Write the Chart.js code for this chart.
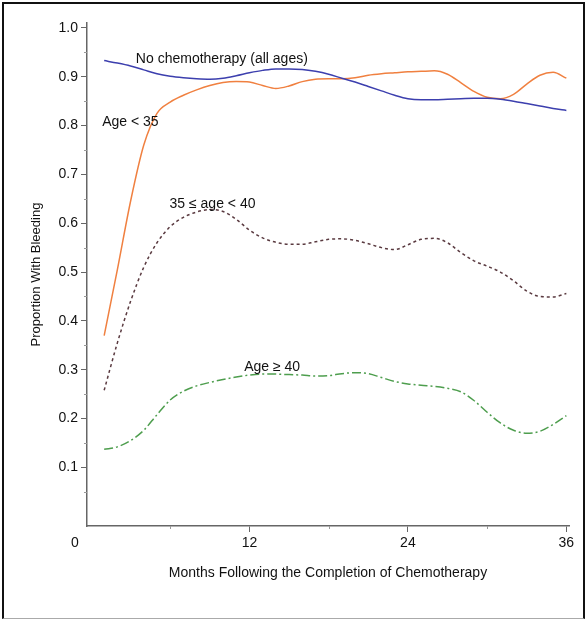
<!DOCTYPE html>
<html>
<head>
<meta charset="utf-8">
<script src="https://cdn.jsdelivr.net/npm/chart.js@4.4.1/dist/chart.umd.min.js"></script>
<style>
  html, body { margin: 0; padding: 0; background: #fff; }
  #wrap { position: relative; width: 587px; height: 620px; }
  #frame { position: absolute; left: 2px; top: 2px; width: 579px; height: 614px;
           border: 2px solid #111; border-bottom: 1px solid #aaa; pointer-events: none; }
</style>
</head>
<body>
<div id="wrap">
  <canvas id="chart" width="587" height="620"></canvas>
  <div id="frame"></div>
</div>
<script>
// months after chemotherapy (x values)
const months = [1, 2, 3, 4, 5, 6, 7, 8, 9, 10, 11, 12, 13, 14, 15, 16, 17, 18,
                19, 20, 21, 22, 23, 24, 25, 26, 27, 28, 29, 30, 31, 32, 33, 34, 35, 36];

// proportion with bleeding, one value per month
const noChemo = [0.933, 0.928, 0.922, 0.914, 0.906, 0.901, 0.898, 0.896, 0.895, 0.897, 0.902, 0.908,
                 0.913, 0.916, 0.916, 0.915, 0.911, 0.905, 0.897, 0.889, 0.880, 0.871, 0.862, 0.855,
                 0.853, 0.853, 0.854, 0.855, 0.856, 0.856, 0.854, 0.850, 0.845, 0.840, 0.835, 0.831];
const ageUnder35 = [0.370, 0.505, 0.645, 0.760, 0.825, 0.848, 0.862, 0.873, 0.882, 0.888, 0.890, 0.889,
                    0.882, 0.876, 0.881, 0.890, 0.895, 0.896, 0.896, 0.898, 0.903, 0.906, 0.908, 0.910,
                    0.911, 0.912, 0.905, 0.888, 0.870, 0.858, 0.855, 0.864, 0.885, 0.903, 0.909, 0.897];
const age35to40 = [0.258, 0.355, 0.440, 0.510, 0.560, 0.593, 0.612, 0.623, 0.628, 0.624, 0.608, 0.586,
                   0.570, 0.561, 0.557, 0.557, 0.562, 0.567, 0.568, 0.565, 0.558, 0.550, 0.546, 0.556,
                   0.567, 0.569, 0.560, 0.540, 0.523, 0.512, 0.500, 0.482, 0.461, 0.450, 0.449, 0.456];
const age40plus = [0.137, 0.142, 0.155, 0.176, 0.208, 0.238, 0.256, 0.267, 0.274, 0.280, 0.285, 0.289,
                   0.291, 0.291, 0.290, 0.289, 0.287, 0.288, 0.292, 0.294, 0.292, 0.284, 0.276, 0.271,
                   0.268, 0.266, 0.262, 0.255, 0.237, 0.213, 0.191, 0.176, 0.170, 0.174, 0.188, 0.206];

// axis ticks
const xTicks = [12, 24, 36];
const xMinorTicks = [6, 18, 30];
const yTicks = [0.1, 0.2, 0.3, 0.4, 0.5, 0.6, 0.7, 0.8, 0.9, 1.0];
const yMinorTicks = [0.05, 0.15, 0.25, 0.35, 0.45, 0.55, 0.65, 0.75, 0.85, 0.95];

// curve labels, anchored in data units
const curveLabels = [
  { text: 'No chemotherapy (all ages)', x: 3.4, y: 0.935 },
  { text: 'Age < 35', x: 0.85, y: 0.808 },
  { text: '35 \u2264 age < 40', x: 5.95, y: 0.640 },
  { text: 'Age \u2265 40', x: 11.6, y: 0.306 }
];

const FONT = '"Liberation Sans", Arial, Helvetica, sans-serif';
const AXIS = '#666';
const TEXT = '#111';

const toPoints = vals => months.map((m, i) => ({ x: m, y: vals[i] }));

// minor ticks, the origin "0" and the curve labels
const decorations = {
  id: 'decorations',
  afterDraw(chart) {
    const { ctx, scales: { x, y } } = chart;
    ctx.save();
    ctx.strokeStyle = '#999';
    ctx.lineWidth = 1;
    yMinorTicks.forEach(v => {
      const py = Math.round(y.getPixelForValue(v)) + 0.5;
      ctx.beginPath(); ctx.moveTo(x.left - 3, py); ctx.lineTo(x.left, py); ctx.stroke();
    });
    xMinorTicks.forEach(v => {
      const px = Math.round(x.getPixelForValue(v)) + 0.5;
      ctx.beginPath(); ctx.moveTo(px, y.bottom); ctx.lineTo(px, y.bottom + 3); ctx.stroke();
    });
    ctx.fillStyle = TEXT;
    ctx.font = '14px ' + FONT;
    ctx.textAlign = 'center';
    ctx.textBaseline = 'middle';
    ctx.fillText('0', x.left - 12, y.bottom + 17);
    ctx.textAlign = 'left';
    curveLabels.forEach(l => {
      ctx.fillText(l.text, x.getPixelForValue(l.x), y.getPixelForValue(l.y));
    });
    ctx.restore();
  }
};

new Chart(document.getElementById('chart'), {
  type: 'line',
  data: {
    datasets: [
      { label: 'No chemotherapy (all ages)', data: toPoints(noChemo),
        borderColor: '#3c3fae', borderWidth: 1.5 },
      { label: 'Age < 35', data: toPoints(ageUnder35),
        borderColor: '#f08040', borderWidth: 1.5 },
      { label: '35 \u2264 age < 40', data: toPoints(age35to40),
        borderColor: '#5a3a40', borderWidth: 1.5, borderDash: [3, 3] },
      { label: 'Age \u2265 40', data: toPoints(age40plus),
        borderColor: '#4e9e4e', borderWidth: 1.5, borderDash: [9, 3, 2, 3] }
    ]
  },
  options: {
    responsive: false,
    animation: false,
    layout: { padding: { top: 23, right: 18, bottom: 0, left: 0 } },
    elements: {
      point: { radius: 0 },
      line: { cubicInterpolationMode: 'monotone', fill: false }
    },
    plugins: {
      legend: { display: false },
      tooltip: { enabled: false }
    },
    scales: {
      x: {
        type: 'linear',
        min: -0.3,
        max: 36.2,
        afterBuildTicks: scale => { scale.ticks = xTicks.map(v => ({ value: v })); },
        afterFit: scale => { scale.height = 94; },
        grid: { drawOnChartArea: false, tickLength: 6, tickColor: AXIS },
        border: { display: true, color: AXIS, width: 1.5 },
        ticks: { color: TEXT, font: { family: FONT, size: 14 }, padding: 3, maxRotation: 0 },
        title: {
          display: true,
          text: 'Months Following the Completion of Chemotherapy',
          color: TEXT,
          font: { family: FONT, size: 14 },
          padding: { top: 0, bottom: 38 }
        }
      },
      y: {
        min: -0.02,
        max: 1.01,
        afterBuildTicks: scale => { scale.ticks = yTicks.map(v => ({ value: v })); },
        afterFit: scale => { scale.width = 87; },
        grid: { drawOnChartArea: false, tickLength: 6, tickColor: AXIS },
        border: { display: true, color: AXIS, width: 1.5 },
        ticks: {
          color: TEXT,
          font: { family: FONT, size: 14 },
          padding: 3,
          callback: v => v.toFixed(1)
        },
        title: {
          display: true,
          text: 'Proportion With Bleeding',
          color: TEXT,
          font: { family: FONT, size: 13 },
          padding: { top: 29, bottom: 0 }
        }
      }
    }
  },
  plugins: [decorations]
});
</script>
</body>
</html>
